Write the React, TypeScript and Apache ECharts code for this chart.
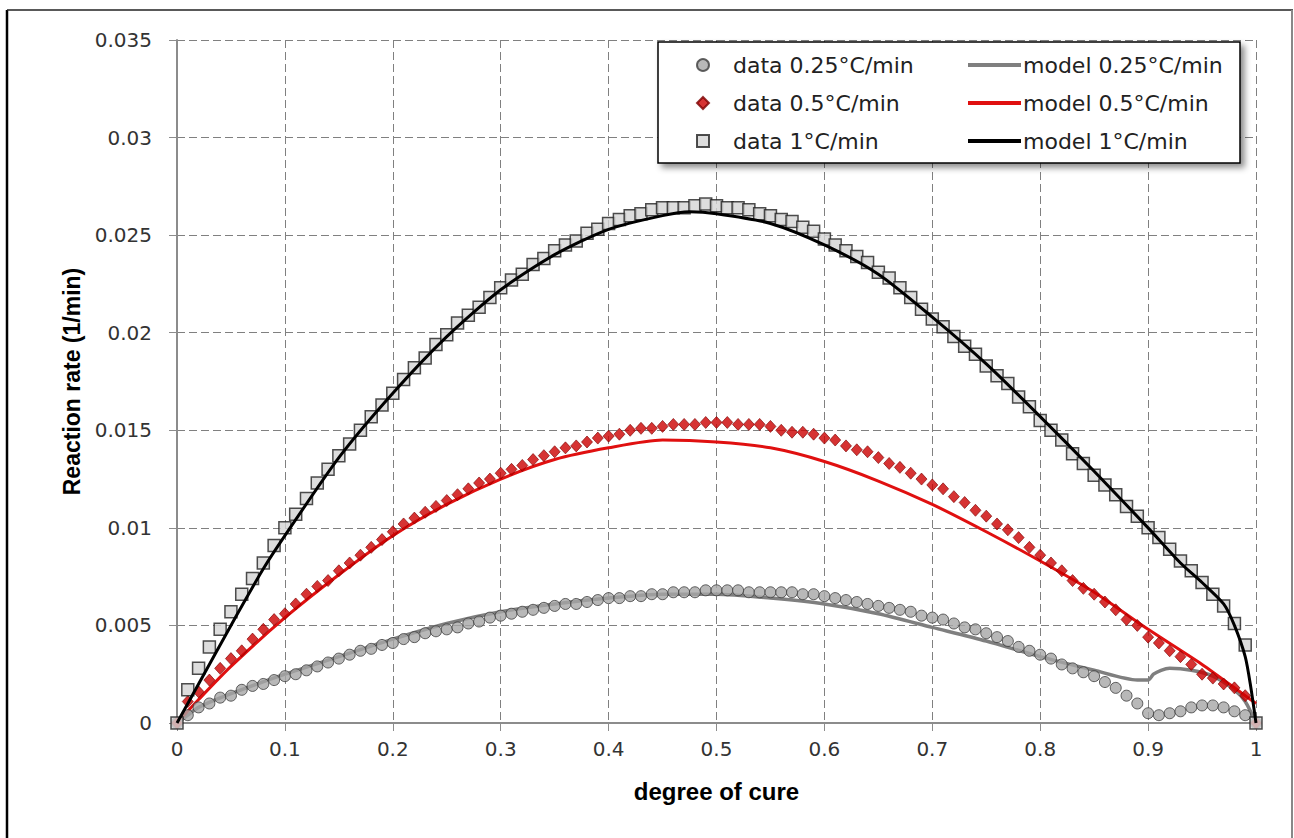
import React, { useEffect, useRef } from "react";
import * as echarts from "echarts";

// degree of cure sampling of the measured data
const cureData = [
  0, 0.01, 0.02, 0.03, 0.04, 0.05, 0.06, 0.07, 0.08, 0.09,
  0.1, 0.11, 0.12, 0.13, 0.14, 0.15, 0.16, 0.17, 0.18, 0.19,
  0.2, 0.21, 0.22, 0.23, 0.24, 0.25, 0.26, 0.27, 0.28, 0.29,
  0.3, 0.31, 0.32, 0.33, 0.34, 0.35, 0.36, 0.37, 0.38, 0.39,
  0.4, 0.41, 0.42, 0.43, 0.44, 0.45, 0.46, 0.47, 0.48, 0.49,
  0.5, 0.51, 0.52, 0.53, 0.54, 0.55, 0.56, 0.57, 0.58, 0.59,
  0.6, 0.61, 0.62, 0.63, 0.64, 0.65, 0.66, 0.67, 0.68, 0.69,
  0.7, 0.71, 0.72, 0.73, 0.74, 0.75, 0.76, 0.77, 0.78, 0.79,
  0.8, 0.81, 0.82, 0.83, 0.84, 0.85, 0.86, 0.87, 0.88, 0.89,
  0.9, 0.91, 0.92, 0.93, 0.94, 0.95, 0.96, 0.97, 0.98, 0.99, 1,
];

const data025 = [
  0, 0.0004, 0.0008, 0.001, 0.0013, 0.0014, 0.0017, 0.0019, 0.002, 0.0022,
  0.0024, 0.0025, 0.0027, 0.0029, 0.0031, 0.0033, 0.0035, 0.0037, 0.0038, 0.004,
  0.0041, 0.0043, 0.0044, 0.0046, 0.0047, 0.0048, 0.0049, 0.0051, 0.0052, 0.0054,
  0.0055, 0.0056, 0.0057, 0.0058, 0.0059, 0.006, 0.0061, 0.0061, 0.0062, 0.0063,
  0.0064, 0.0064, 0.0065, 0.0065, 0.0066, 0.0066, 0.0067, 0.0067, 0.0067, 0.0068,
  0.0068, 0.0068, 0.0068, 0.0067, 0.0067, 0.0067, 0.0067, 0.0067, 0.0066, 0.0066,
  0.0065, 0.0064, 0.0063, 0.0062, 0.0061, 0.006, 0.0059, 0.0058, 0.0057, 0.0055,
  0.0054, 0.0053, 0.0051, 0.0049, 0.0048, 0.0046, 0.0044, 0.0042, 0.0039, 0.0037,
  0.0035, 0.0033, 0.003, 0.0028, 0.0026, 0.0024, 0.0021, 0.0018, 0.0014, 0.001,
  0.0005, 0.0004, 0.0005, 0.0006, 0.0008, 0.0009, 0.0009, 0.0008, 0.0006, 0.0004, 0,
];

const data05 = [
  0, 0.0011, 0.0016, 0.0022, 0.0028, 0.0033, 0.0037, 0.0043, 0.0048, 0.0053,
  0.0056, 0.0061, 0.0066, 0.007, 0.0073, 0.0078, 0.0082, 0.0086, 0.009, 0.0094,
  0.0098, 0.0102, 0.0105, 0.0108, 0.0111, 0.0114, 0.0117, 0.012, 0.0123, 0.0125,
  0.0128, 0.013, 0.0132, 0.0135, 0.0137, 0.0139, 0.0141, 0.0142, 0.0144, 0.0146,
  0.0147, 0.0148, 0.015, 0.0151, 0.0151, 0.0152, 0.0153, 0.0153, 0.0153, 0.0154,
  0.0154, 0.0154, 0.0153, 0.0153, 0.0153, 0.0152, 0.015, 0.0149, 0.0149, 0.0148,
  0.0146, 0.0145, 0.0142, 0.014, 0.0139, 0.0136, 0.0133, 0.0131, 0.0128, 0.0125,
  0.0122, 0.012, 0.0116, 0.0113, 0.0109, 0.0106, 0.0102, 0.0099, 0.0095, 0.009,
  0.0086, 0.0082, 0.0078, 0.0073, 0.0069, 0.0066, 0.0062, 0.0058, 0.0053, 0.005,
  0.0044, 0.0041, 0.0037, 0.0034, 0.003, 0.0025, 0.0023, 0.002, 0.0018, 0.0014, 0,
];

const data1 = [
  0, 0.0017, 0.0028, 0.0039, 0.0048, 0.0057, 0.0066, 0.0074, 0.0082, 0.0091,
  0.01, 0.0107, 0.0115, 0.0123, 0.013, 0.0137, 0.0143, 0.015, 0.0157, 0.0163,
  0.0169, 0.0176, 0.0182, 0.0187, 0.0194, 0.0199, 0.0205, 0.0209, 0.0213, 0.0218,
  0.0223, 0.0227, 0.023, 0.0235, 0.0238, 0.0242, 0.0245, 0.0247, 0.0251, 0.0253,
  0.0256, 0.0258, 0.026, 0.0261, 0.0263, 0.0264, 0.0264, 0.0264, 0.0265, 0.0266,
  0.0265, 0.0264, 0.0264, 0.0263, 0.0261, 0.026, 0.0258, 0.0257, 0.0254, 0.0252,
  0.0248, 0.0245, 0.0242, 0.0239, 0.0236, 0.0231, 0.0228, 0.0223, 0.0218, 0.0212,
  0.0207, 0.0203, 0.0198, 0.0193, 0.0189, 0.0183, 0.0178, 0.0174, 0.0167, 0.0162,
  0.0155, 0.015, 0.0145, 0.0138, 0.0133, 0.0127, 0.0122, 0.0117, 0.0111, 0.0106,
  0.01, 0.0095, 0.0089, 0.0083, 0.0078, 0.0072, 0.0066, 0.006, 0.0051, 0.004, 0,
];

const model025X = [0, 0.01, 0.02, 0.05, 0.1, 0.15, 0.2, 0.25, 0.3, 0.35, 0.4, 0.45, 0.5, 0.55, 0.6, 0.65, 0.7, 0.75, 0.8, 0.85, 0.89, 0.9, 0.905, 0.912, 0.92, 0.94, 0.96, 0.98, 0.99, 1];
const model025Y = [0, 0.0004, 0.0008, 0.0015, 0.0025, 0.0034, 0.0043, 0.0051, 0.0057, 0.0061, 0.0064, 0.0066, 0.0066, 0.0064, 0.0061, 0.0056, 0.0049, 0.0042, 0.0034, 0.0027, 0.0022, 0.0022, 0.0025, 0.0027, 0.0028, 0.0027, 0.0024, 0.0017, 0.0011, 0];

const model05X = [0, 0.02, 0.05, 0.1, 0.15, 0.2, 0.25, 0.3, 0.35, 0.4, 0.45, 0.5, 0.55, 0.6, 0.65, 0.7, 0.75, 0.8, 0.85, 0.9, 0.95, 0.99, 1];
const model05Y = [0, 0.0012, 0.0029, 0.0054, 0.0076, 0.0096, 0.0112, 0.0125, 0.0135, 0.0141, 0.0145, 0.0144, 0.0141, 0.0134, 0.0124, 0.0112, 0.0098, 0.0083, 0.0067, 0.0048, 0.003, 0.0014, 0.001];

const model1X = [0, 0.02, 0.05, 0.08, 0.1, 0.15, 0.2, 0.25, 0.3, 0.35, 0.4, 0.45, 0.475, 0.5, 0.55, 0.6, 0.65, 0.7, 0.75, 0.8, 0.85, 0.9, 0.93, 0.95, 0.97, 0.98, 0.99, 0.995, 1];
const model1Y = [0, 0.002, 0.005, 0.0079, 0.0096, 0.0136, 0.0169, 0.0198, 0.0222, 0.024, 0.0253, 0.026, 0.0262, 0.0261, 0.0256, 0.0245, 0.023, 0.0208, 0.0184, 0.0157, 0.0129, 0.01, 0.0082, 0.0072, 0.0061, 0.005, 0.0034, 0.0019, 0];

const dataNames = ["data 0.25°C/min", "data 0.5°C/min", "data 1°C/min"];
const modelNames = ["model 0.25°C/min", "model 0.5°C/min", "model 1°C/min"];
const dataIcons = ["circle", "diamond", "rect"];

const pairs = (xs: number[], ys: number[]) => xs.map((x, i) => [x, ys[i]]);

export default function App() {
  const ref = useRef<HTMLDivElement>(null);
  useEffect(() => {
    document.body.style.margin = "0";
    if (!ref.current) return;
    const chart = echarts.init(ref.current, undefined, { renderer: "svg" });
    const tickFont = { fontFamily: "DejaVu Sans", fontSize: 20, color: "#333" };
    const titleFont = { fontFamily: "Liberation Sans", fontWeight: "bold" as const, fontSize: 24, color: "#000" };
    const legendText = { fontFamily: "DejaVu Sans", fontSize: 22, color: "#222" };
    chart.setOption({
      animation: false,
      backgroundColor: "#ffffff",
      grid: { left: 177, top: 40, width: 1079, height: 683 },
      xAxis: {
        type: "value", min: 0, max: 1, interval: 0.1,
        name: "degree of cure", nameLocation: "middle", nameGap: 56, nameTextStyle: titleFont,
        axisLine: { show: true, onZero: false, lineStyle: { color: "#8c8c8c", width: 2 } },
        axisTick: { show: true, length: 8, lineStyle: { color: "#8c8c8c" } },
        axisLabel: { margin: 16, ...tickFont },
        splitLine: { show: true, lineStyle: { color: "#808080", type: [8, 4], width: 1 } },
      },
      yAxis: {
        type: "value", min: 0, max: 0.035, interval: 0.005,
        name: "Reaction rate (1/min)", nameLocation: "middle", nameGap: 93, nameTextStyle: { ...titleFont, fontSize: 23 },
        axisLine: { show: true, onZero: false, lineStyle: { color: "#8c8c8c", width: 2 } },
        axisTick: { show: true, length: 8, lineStyle: { color: "#8c8c8c" } },
        axisLabel: { margin: 25, ...tickFont },
        splitLine: { show: true, lineStyle: { color: "#808080", type: [8, 4], width: 1 } },
      },
      legend: [
        {
          data: dataNames.map((n, i) => ({ name: n, icon: dataIcons[i] })),
          orient: "vertical", left: 691, top: 49,
          itemWidth: 12, itemHeight: 12, itemGap: 16,
          textStyle: { ...legendText, padding: [0, 0, 0, 19] }, z: 6,
        },
        {
          data: modelNames.map((n) => ({ name: n, icon: "rect" })),
          orient: "vertical", left: 963, top: 49,
          itemWidth: 53, itemHeight: 4, itemGap: 16,
          textStyle: { ...legendText, padding: [0, 0, 0, -3] }, z: 6,
        },
      ],
      graphic: [
        { type: "line", z: 10, shape: { x1: 7, y1: 10, x2: 7, y2: 838 }, style: { stroke: "#000", lineWidth: 2.5 } },
        { type: "line", z: 10, shape: { x1: 7, y1: 10, x2: 1293, y2: 10 }, style: { stroke: "#222", lineWidth: 1.5 } },
        { type: "line", z: 10, shape: { x1: 1292, y1: 10, x2: 1292, y2: 838 }, style: { stroke: "#888", lineWidth: 2 } },
        {
          type: "rect", z: 5, shape: { x: 658, y: 42, width: 582, height: 121 },
          style: { fill: "#fff", stroke: "#000", lineWidth: 1.5, shadowBlur: 6, shadowOffsetX: 4, shadowOffsetY: 4, shadowColor: "rgba(0,0,0,0.45)" },
        },
      ],
      series: [
        {
          name: modelNames[0], type: "line", data: pairs(model025X, model025Y), symbol: "none",
          smooth: 0.25, z: 2, lineStyle: { color: "#7f7f7f", width: 3.5 }, itemStyle: { color: "#7f7f7f" },
        },
        {
          name: modelNames[1], type: "line", data: pairs(model05X, model05Y), symbol: "none",
          smooth: 0.25, z: 2, lineStyle: { color: "#e01010", width: 3 }, itemStyle: { color: "#e01010" },
        },
        {
          name: dataNames[0], type: "scatter", data: pairs(cureData, data025), symbol: "circle", symbolSize: 11, z: 3,
          itemStyle: { color: "#a6a6a6", borderColor: "#3c3c3c", borderWidth: 1 },
        },
        {
          name: dataNames[1], type: "scatter", data: pairs(cureData, data05), symbol: "diamond", symbolSize: [11, 12], z: 3,
          itemStyle: { color: "#cc0000", borderColor: "#7a0000", borderWidth: 0.8 },
        },
        {
          name: dataNames[2], type: "scatter", data: pairs(cureData, data1), symbol: "rect", symbolSize: 12, z: 3,
          itemStyle: { color: "#d4d4d4", borderColor: "#222", borderWidth: 1.5 },
        },
        {
          name: modelNames[2], type: "line", data: pairs(model1X, model1Y), symbol: "none",
          smooth: 0.25, z: 4, lineStyle: { color: "#000", width: 3 }, itemStyle: { color: "#000" },
        },
      ],
    });
    return () => chart.dispose();
  }, []);
  return <div ref={ref} style={{ width: 1294, height: 838 }} />;
}
